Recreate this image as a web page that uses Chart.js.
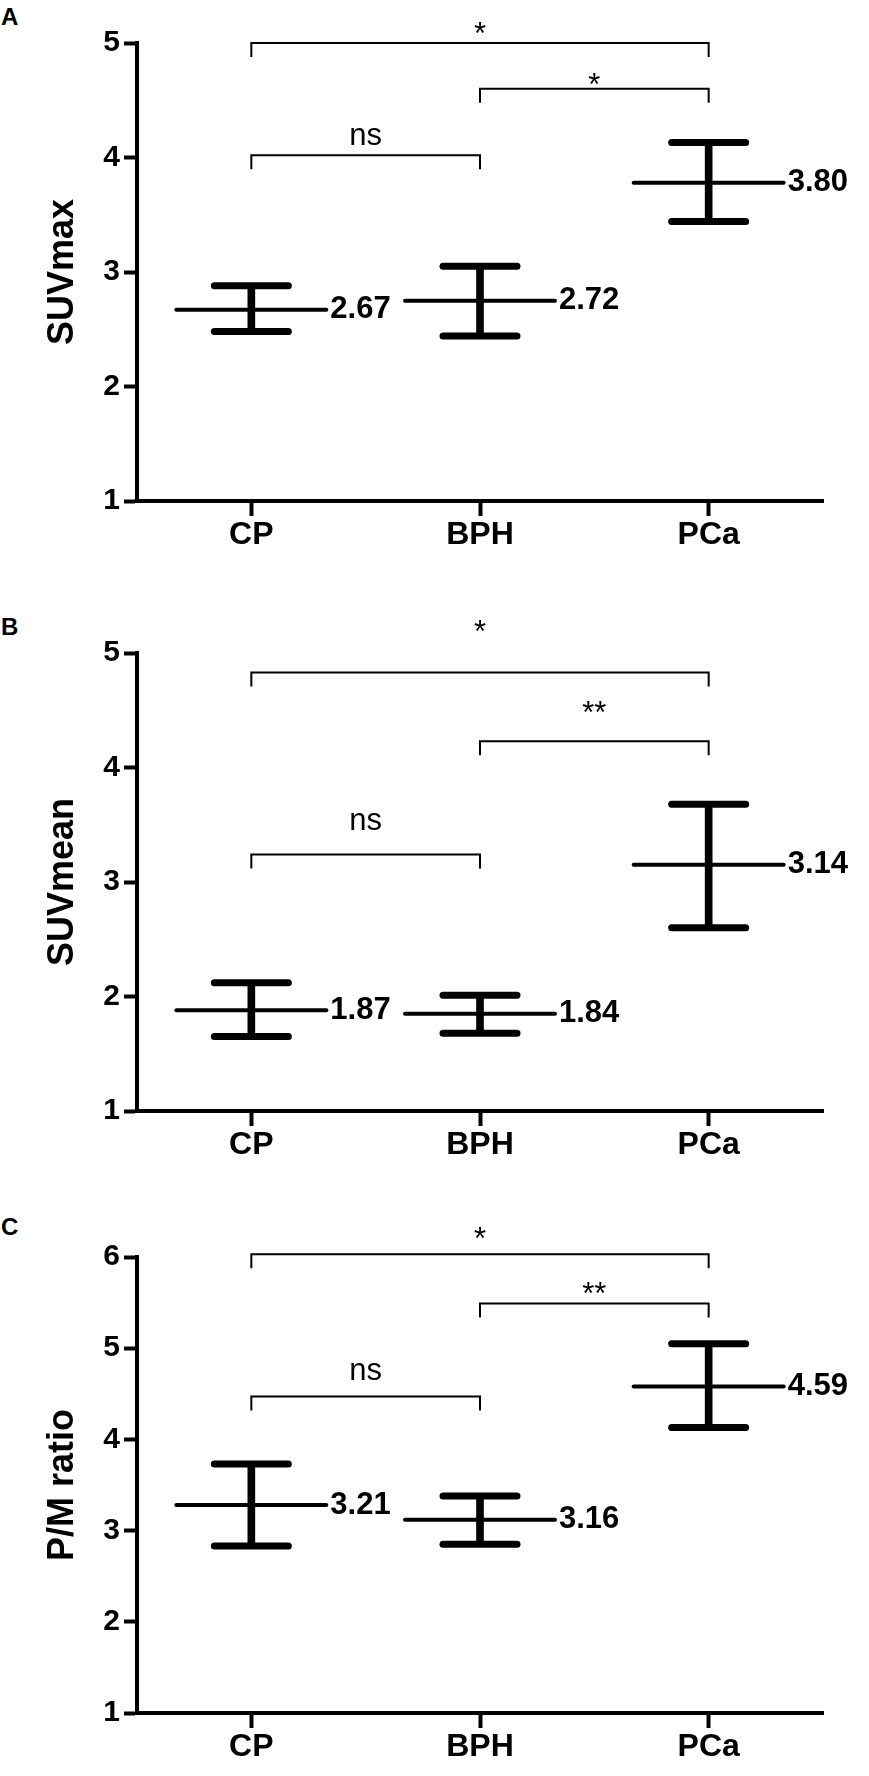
<!DOCTYPE html>
<html>
<head>
<meta charset="utf-8">
<script src="https://cdn.jsdelivr.net/npm/chart.js@4.4.1/dist/chart.umd.min.js"></script>
<style>
  html, body { margin: 0; padding: 0; background: #fff; }
  body { width: 869px; height: 1776px; position: relative; overflow: hidden;
         font-family: "Liberation Sans", Arial, Helvetica, sans-serif; }
  canvas { position: absolute; left: 0; }
  .tag { position: absolute; left: 1px; font-weight: bold; font-size: 24px; line-height: 24px; color: #000; }
</style>
</head>
<body>
<div class="tag" style="top:5px">A</div>
<div class="tag" style="top:615px">B</div>
<div class="tag" style="top:1215px">C</div>
<canvas id="chartA" style="top:0px" width="869" height="590"></canvas>
<canvas id="chartB" style="top:590px" width="869" height="590"></canvas>
<canvas id="chartC" style="top:1180px" width="869" height="596"></canvas>
<script>
const groups = ['CP', 'BPH', 'PCa'];
const sigPairs = [[0, 2], [1, 2], [0, 1]];

// A - SUVmax
const suvmaxMean = [2.67, 2.75, 3.78];
const suvmaxUpper = [2.88, 3.05, 4.13];
const suvmaxLower = [2.48, 2.44, 3.44];
const suvmaxText = ['2.67', '2.72', '3.80'];
const suvmaxRange = [1, 5];
const suvmaxSig = ['*', '*', 'ns'];
const suvmaxSigAt = [5.0, 4.60, 4.02];
const suvmaxSigTextAt = [4.99, 4.55, 4.11];

// B - SUVmean
const suvmeanMean = [1.88, 1.85, 3.15];
const suvmeanUpper = [2.12, 2.01, 3.68];
const suvmeanLower = [1.65, 1.68, 2.60];
const suvmeanText = ['1.87', '1.84', '3.14'];
const suvmeanRange = [1, 5];
const suvmeanSig = ['*', '**', 'ns'];
const suvmeanSigAt = [4.83, 4.23, 3.24];
const suvmeanSigTextAt = [5.10, 4.39, 3.45];

// C - P/M ratio
const pmMean = [3.28, 3.12, 4.58];
const pmUpper = [3.73, 3.38, 5.05];
const pmLower = [2.83, 2.85, 4.13];
const pmText = ['3.21', '3.16', '4.59'];
const pmRange = [1, 6];
const pmSig = ['*', '**', 'ns'];
const pmSigAt = [6.03, 5.49, 4.47];
const pmSigTextAt = [6.09, 5.48, 4.65];

const FONT = '"Liberation Sans", Arial, Helvetica, sans-serif';

// value labels next to the mean lines + significance brackets
const panelDecor = {
    id: 'panelDecor',
    beforeDraw(chart) { chart.ctx.lineCap = 'butt'; },
    beforeDatasetsDraw(chart) { chart.ctx.lineCap = 'round'; },
    afterDraw(chart, args, opts) {
        const { ctx } = chart;
        const x = chart.scales.x, y = chart.scales.y;
        ctx.save();
        ctx.fillStyle = '#000';
        ctx.strokeStyle = '#000';

        ctx.font = 'bold 31px ' + FONT;
        ctx.textAlign = 'left';
        ctx.textBaseline = 'middle';
        opts.means.forEach((m, i) => {
            ctx.fillText(opts.valueText[i], x.getPixelForValue(i) + 79, y.getPixelForValue(m));
        });

        ctx.lineWidth = 2;
        ctx.lineCap = 'butt';
        ctx.font = '31px ' + FONT;
        ctx.textAlign = 'center';
        ctx.textBaseline = 'alphabetic';
        sigPairs.forEach(([a, b], i) => {
            const x1 = x.getPixelForValue(a);
            const x2 = x.getPixelForValue(b);
            const yy = y.getPixelForValue(opts.sigAt[i]);
            ctx.beginPath();
            ctx.moveTo(x1, yy + 14);
            ctx.lineTo(x1, yy);
            ctx.lineTo(x2, yy);
            ctx.lineTo(x2, yy + 14);
            ctx.stroke();
            ctx.fillText(opts.sig[i], (x1 + x2) / 2, y.getPixelForValue(opts.sigTextAt[i]));
        });
        ctx.restore();
    }
};

function pointSet(data, radius, width) {
    return {
        type: 'line',
        data: data,
        showLine: false,
        pointStyle: 'line',
        pointRadius: radius,
        pointHoverRadius: radius,
        pointBorderWidth: width,
        pointBorderColor: '#000',
        pointBackgroundColor: '#000',
        clip: false
    };
}

function makePanel(canvasId, p) {
    return new Chart(document.getElementById(canvasId), {
        type: 'bar',
        data: {
            labels: groups,
            datasets: [
                pointSet(p.mean, 75, 4),
                pointSet(p.upper, 37, 7),
                pointSet(p.lower, 37, 7),
                {
                    type: 'bar',
                    data: p.lower.map((l, i) => [l, p.upper[i]]),
                    backgroundColor: '#000',
                    borderWidth: 0,
                    barThickness: 7,
                    clip: false
                }
            ]
        },
        plugins: [panelDecor],
        options: {
            responsive: false,
            animation: false,
            events: [],
            layout: { autoPadding: false, padding: { top: p.padTop, left: 20, right: 46, bottom: 0 } },
            plugins: {
                legend: { display: false },
                tooltip: { enabled: false },
                panelDecor: {
                    means: p.mean,
                    valueText: p.text,
                    sig: p.sig,
                    sigAt: p.sigAt,
                    sigTextAt: p.sigTextAt
                }
            },
            scales: {
                x: {
                    type: 'category',
                    offset: true,
                    grid: {
                        display: true, offset: false, drawOnChartArea: false,
                        drawTicks: true, tickLength: 15, tickWidth: 4, tickColor: '#000'
                    },
                    border: { display: true, color: '#000', width: 4 },
                    ticks: {
                        color: '#000', padding: 0, maxRotation: 0, autoSkip: false,
                        font: { family: FONT, size: 32, weight: 'bold' }
                    },
                    afterFit: s => { s.height = p.xHeight; }
                },
                y: {
                    min: p.range[0],
                    max: p.range[1],
                    grid: {
                        display: true, drawOnChartArea: false,
                        drawTicks: true, tickLength: 13, tickWidth: 4, tickColor: '#000'
                    },
                    border: { display: true, color: '#000', width: 4 },
                    ticks: {
                        stepSize: 1, color: '#000', padding: 4,
                        font: { family: FONT, size: 30, weight: 'bold' }
                    },
                    title: {
                        display: true, text: p.title, color: '#000',
                        font: { family: FONT, size: 36, weight: 'bold' },
                        padding: { top: 21, bottom: 0 }
                    },
                    afterFit: s => { s.width = 117; }
                }
            }
        }
    });
}

makePanel('chartA', {
    title: 'SUVmax', range: suvmaxRange, mean: suvmaxMean, upper: suvmaxUpper, lower: suvmaxLower,
    text: suvmaxText, sig: suvmaxSig, sigAt: suvmaxSigAt, sigTextAt: suvmaxSigTextAt,
    padTop: 43, xHeight: 89
});
makePanel('chartB', {
    title: 'SUVmean', range: suvmeanRange, mean: suvmeanMean, upper: suvmeanUpper, lower: suvmeanLower,
    text: suvmeanText, sig: suvmeanSig, sigAt: suvmeanSigAt, sigTextAt: suvmeanSigTextAt,
    padTop: 63, xHeight: 69
});
makePanel('chartC', {
    title: 'P/M ratio', range: pmRange, mean: pmMean, upper: pmUpper, lower: pmLower,
    text: pmText, sig: pmSig, sigAt: pmSigAt, sigTextAt: pmSigTextAt,
    padTop: 77, xHeight: 63
});
</script>
</body>
</html>
